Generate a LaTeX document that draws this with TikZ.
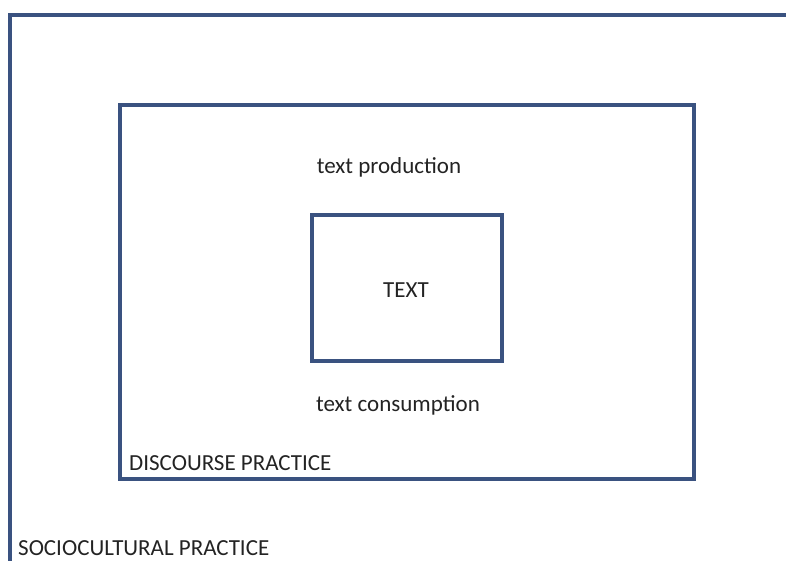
\documentclass[tikz,border=0pt]{standalone}
\usepackage{fontspec}
\setmainfont{Carlito}
\definecolor{boxblue}{RGB}{58,82,128}
\definecolor{labelgray}{RGB}{35,35,35}
\tikzset{
  frame/.style={draw=boxblue, line width=3.2pt},
  label text/.style={text=labelgray, font=\fontsize{23}{27}\selectfont, inner sep=0pt}
}
\begin{document}
\begin{tikzpicture}[x=1pt,y=-1pt]
  \useasboundingbox (0,0) rectangle (786,561);

  % Drawing frame sociocultural practice
  \draw [frame] (10,561) -- (10,15) -- (786,15);

  % Drawing frame discourse practice
  \draw [frame] (120,105) rectangle (694,479);

  % Drawing frame text
  \draw [frame] (312,215) rectangle (502,361);

  % Marking labels
  \node [label text] (production) at (389,167) {text production};
  \node [label text] (text) at (406,290) {TEXT};
  \node [label text] (consumption) at (398,405) {text consumption};
  \node [label text, anchor=west] (discourse) at (129,463) {DISCOURSE PRACTICE};
  \node [label text, anchor=west] (sociocultural) at (18,548) {SOCIOCULTURAL PRACTICE};
\end{tikzpicture}
\end{document}
